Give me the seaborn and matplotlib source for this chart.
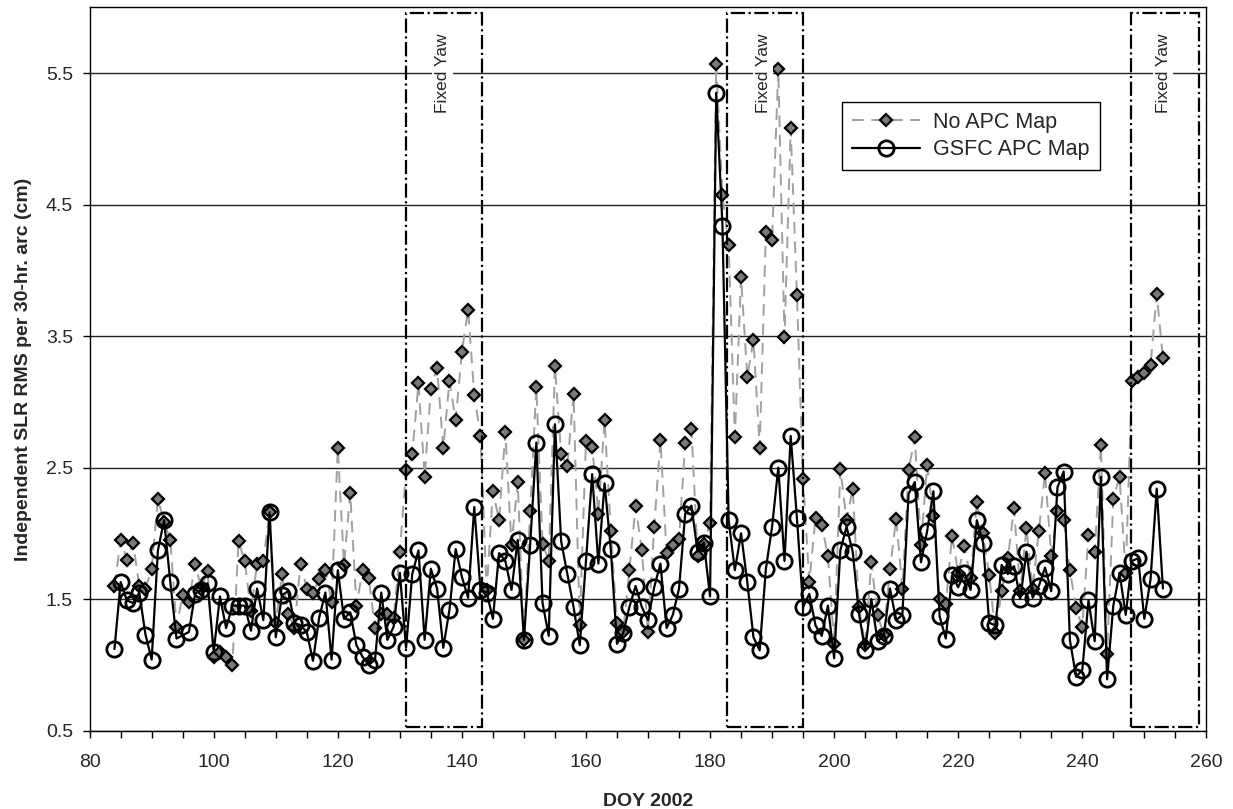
import matplotlib
matplotlib.use("Agg")
import matplotlib.pyplot as plt
import seaborn as sns
from matplotlib.patches import Rectangle
from matplotlib.ticker import MultipleLocator

# No APC Map (gray diamonds, dashed)
no_apc_days = list(range(84, 254))
no_apc_rms = [
    1.60, 1.95, 1.80, 1.93, 1.60, 1.58, 1.73, 2.26, 2.09, 1.95,  # 84-93
    1.29, 1.53, 1.48, 1.77, 1.58, 1.71, 1.06, 1.10, 1.06, 1.00,  # 94-103
    1.94, 1.79, 1.41, 1.77, 1.79, 2.16, 1.32, 1.69, 1.39, 1.28,  # 104-113
    1.77, 1.58, 1.55, 1.65, 1.72, 1.48, 2.65, 1.76, 2.31, 1.45,  # 114-123
    1.72, 1.66, 1.28, 1.39, 1.39, 1.36, 1.86, 2.48, 2.60, 3.14,  # 124-133
    2.43, 3.10, 3.26, 2.65, 3.16, 2.86, 3.38, 3.70, 3.05, 2.74,  # 134-143
    1.57, 2.32, 2.10, 2.77, 1.91, 2.39, 1.19, 2.17, 3.11, 1.92,  # 144-153
    1.79, 3.27, 2.60, 2.51, 3.06, 1.30, 2.70, 2.66, 2.15, 2.86,  # 154-163
    2.02, 1.32, 1.25, 1.72, 2.21, 1.87, 1.25, 2.05, 2.71, 1.85,  # 164-173
    1.91, 1.96, 2.69, 2.79, 1.83, 1.92, 2.08, 5.57, 4.57, 4.19,  # 174-183
    2.73, 3.95, 3.19, 3.47, 2.65, 4.29, 4.23, 5.53, 3.49, 5.08,  # 184-193
    3.81, 2.41, 1.63, 2.12, 2.06, 1.83, 1.16, 2.49, 2.10, 2.34,  # 194-203
    1.44, 1.15, 1.78, 1.38, 1.23, 1.73, 2.11, 1.58, 2.48, 2.73,  # 204-213
    1.91, 2.52, 2.13, 1.50, 1.46, 1.98, 1.70, 1.90, 1.66, 2.24,  # 214-223
    2.00, 1.68, 1.24, 1.56, 1.81, 2.19, 1.56, 2.04, 1.58, 2.02,  # 224-233
    2.46, 1.83, 2.17, 2.10, 1.72, 1.43, 1.29, 1.99, 1.86, 2.67,  # 234-243
    1.08, 2.26, 2.43, 1.70, 3.16, 3.19, 3.22, 3.28, 3.82, 3.33,  # 244-253
]

# GSFC APC Map (open circles, solid) - no value on day 95
gsfc_days = [d for d in range(84, 254) if d != 95]
gsfc_rms = [
    1.12, 1.63, 1.49, 1.47, 1.55, 1.23, 1.04, 1.87, 2.10, 1.63,  # 84-93
    1.20, 1.25, 1.54, 1.57, 1.62, 1.10, 1.52, 1.28, 1.45,        # 94-103
    1.45, 1.45, 1.26, 1.58, 1.34, 2.16, 1.21, 1.53, 1.56, 1.32,  # 104-113
    1.30, 1.25, 1.03, 1.36, 1.55, 1.04, 1.72, 1.35, 1.40, 1.15,  # 114-123
    1.06, 1.00, 1.04, 1.55, 1.19, 1.29, 1.70, 1.13, 1.69, 1.87,  # 124-133
    1.19, 1.73, 1.58, 1.13, 1.42, 1.88, 1.67, 1.51, 2.20, 1.57,  # 134-143
    1.55, 1.35, 1.85, 1.79, 1.57, 1.95, 1.19, 1.91, 2.69, 1.47,  # 144-153
    1.22, 2.83, 1.94, 1.69, 1.44, 1.15, 1.79, 2.45, 1.77, 2.38,  # 154-163
    1.88, 1.16, 1.24, 1.44, 1.60, 1.44, 1.34, 1.59, 1.77, 1.28,  # 164-173
    1.38, 1.58, 2.15, 2.21, 1.86, 1.93, 1.52, 5.35, 4.34, 2.10,  # 174-183
    1.72, 2.00, 1.63, 1.21, 1.11, 1.73, 2.05, 2.50, 1.79, 2.74,  # 184-193
    2.12, 1.44, 1.54, 1.30, 1.22, 1.45, 1.05, 1.87, 2.05, 1.86,  # 194-203
    1.39, 1.11, 1.50, 1.18, 1.22, 1.58, 1.34, 1.38, 2.30, 2.39,  # 204-213
    1.78, 2.02, 2.32, 1.37, 1.20, 1.68, 1.59, 1.70, 1.57, 2.10,  # 214-223
    1.93, 1.32, 1.30, 1.76, 1.69, 1.75, 1.50, 1.86, 1.51, 1.60,  # 224-233
    1.74, 1.56, 2.35, 2.47, 1.19, 0.91, 0.96, 1.49, 1.18, 2.43,  # 234-243
    0.89, 1.45, 1.70, 1.38, 1.79, 1.81, 1.35, 1.65, 2.34, 1.58,  # 244-253
]

# Fixed yaw periods (DOY start, end)
yaw_starts = [131.0, 182.7, 247.8]
yaw_ends = [143.3, 195.0, 258.85]
yaw_label = "Fixed Yaw"


def main():
    sns.set_style("ticks")
    plt.rcParams["font.family"] = ["Liberation Sans", "DejaVu Sans"]

    fig = plt.figure(figsize=(12.33, 8.09), dpi=100)
    ax = fig.add_axes([0.0727, 0.0969, 0.9057, 0.8941])

    for y in [0.5, 1.5, 2.5, 3.5, 4.5, 5.5]:
        ax.axhline(y, color="#222222", lw=1.0, zorder=0)

    sns.lineplot(x=no_apc_days, y=no_apc_rms, ax=ax, color="#a0a0a0",
                 linestyle=(0, (6, 4)), lw=1.4, marker="D", markersize=6.5,
                 markerfacecolor="#7a7a7a", markeredgecolor="black",
                 markeredgewidth=1.6, label="No APC Map", zorder=2)
    sns.lineplot(x=gsfc_days, y=gsfc_rms, ax=ax, color="black",
                 lw=1.6, marker="o", markersize=11,
                 markerfacecolor="none", markeredgecolor="black",
                 markeredgewidth=2.0, label="GSFC APC Map", zorder=3)

    for x0, x1 in zip(yaw_starts, yaw_ends):
        ax.add_patch(Rectangle((x0, 0.53), x1 - x0, 5.43, fill=False,
                               ec="black", lw=1.6, ls="-.", zorder=4))
        ax.text((x0 + x1) / 2 - 0.3, 5.5, yaw_label, rotation=90, fontsize=12.5,
                ha="center", va="center", zorder=5,
                bbox=dict(facecolor="white", edgecolor="none", pad=2))

    ax.set_xlim(80, 260)
    ax.set_ylim(0.5, 6.0)
    ax.xaxis.set_major_locator(MultipleLocator(20))
    ax.xaxis.set_minor_locator(MultipleLocator(5))
    ax.set_yticks([0.5, 1.5, 2.5, 3.5, 4.5, 5.5])
    ax.tick_params(axis="both", which="both", direction="out", length=5,
                   width=1.0, color="black", labelsize=14)
    ax.tick_params(axis="x", which="major", pad=12)
    ax.tick_params(axis="y", which="major", pad=7)
    for side in ["top", "right", "left", "bottom"]:
        ax.spines[side].set_visible(True)
        ax.spines[side].set_color("black")
        ax.spines[side].set_linewidth(1.0)

    ax.set_xlabel("DOY 2002", fontsize=14, fontweight="bold", labelpad=16)
    ax.set_ylabel("Independent SLR RMS per 30-hr. arc (cm)", fontsize=14,
                  fontweight="bold", labelpad=10)

    leg = ax.legend(loc="upper left", bbox_to_anchor=(0.664, 0.884),
                    fontsize=15.5, frameon=True, fancybox=False,
                    edgecolor="black", framealpha=1, handlelength=3.2,
                    borderpad=0.45, labelspacing=0.3, handletextpad=0.6)
    leg.get_frame().set_linewidth(1.0)

    fig.savefig("out.png", dpi=100)


if __name__ == "__main__":
    main()
